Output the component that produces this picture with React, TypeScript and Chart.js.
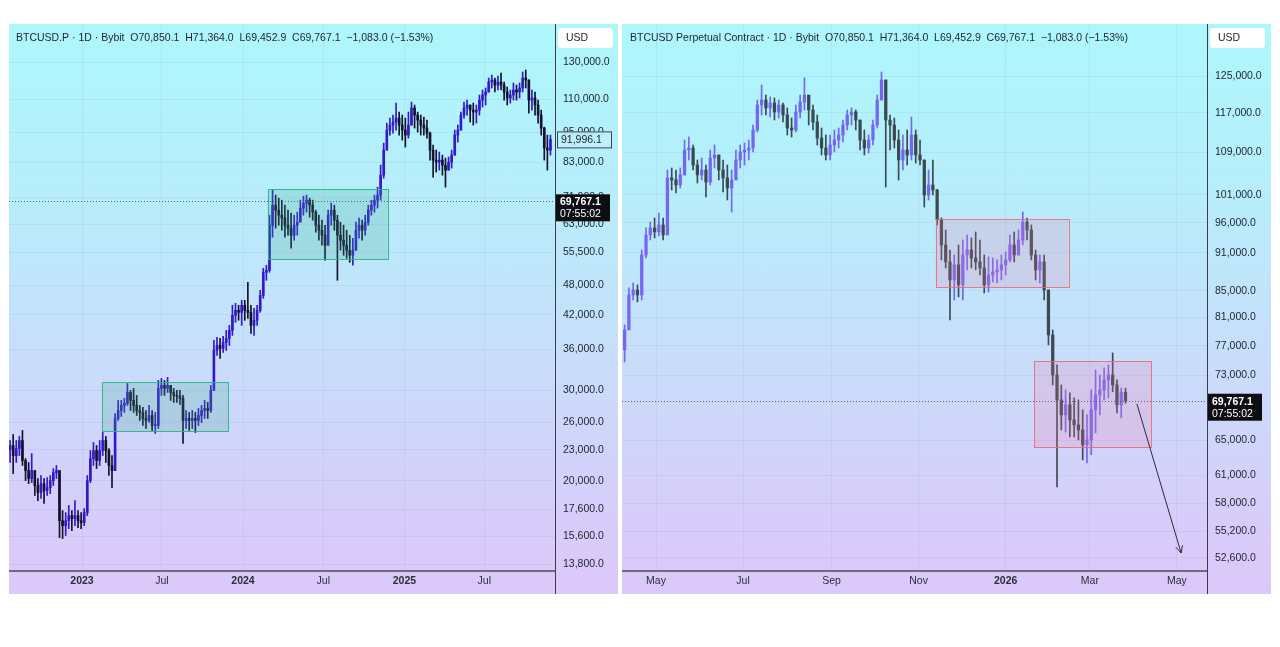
import React, { useEffect, useRef } from "react";
import { Chart, registerables } from "chart.js";
Chart.register(...registerables);

const FONT = '"Liberation Sans", Arial, sans-serif';
const dayOf = (s: string) => Date.parse(s + "T00:00:00Z") / 86400000;

// ---------------- LEFT PANEL: weekly candles, BTCUSD.P ----------------
const LEFT_FIRST_DATE = "2022-07-22";
const LEFT_STEP_DAYS = 7;
const LEFT_FIRST_OPEN = 23000;
const LEFT_HIGH = [
  23960, 24620, 23960, 24400, 25060, 22100, 21720, 22600, 20950, 20210,
  20490, 20210, 20300, 20490, 21140, 21430, 20950, 17520, 17360, 17920,
  17520, 18320, 17520, 17360, 17680, 20490, 22910, 23750, 23430, 23960,
  24840, 24400, 23120, 22400, 27030, 28660, 28660, 28920, 30920, 29970,
  30240, 29310, 28030, 27780, 27400, 28030, 27400, 27160, 31340, 31620,
  31340, 31760, 30650, 30240, 29970, 29970, 29310, 27400, 27160, 27400,
  27160, 27650, 28030, 28660, 28410, 30650, 37480, 37980, 37810, 38150,
  39190, 40080, 43840, 44230, 43840, 44830, 44830, 48580, 43840, 43260,
  43840, 46880, 51730, 52430, 65570, 73330, 71710, 70750, 70120, 68570,
  67050, 66160, 65570, 66450, 70120, 71390, 71710, 70750, 70120, 67050,
  65570, 64120, 62700, 67050, 69190, 68570, 65570, 63550, 62700, 61310,
  59960, 59160, 63550, 64700, 64120, 65570, 68570, 70120, 71710, 74320,
  82010, 90490, 98950, 101200, 102560, 108220, 103950, 102560, 101200, 103950,
  108700, 107260, 103950, 102560, 101650, 100290, 95050, 89680, 87700, 86920,
  85760, 84620, 85000, 87700, 95900, 98080, 103950, 108700, 109680, 107260,
  108220, 107260, 112160, 114700, 115730, 121030, 122670, 121030, 122120, 123770,
  118870, 116250, 114700, 118340, 117290, 118340, 124320, 125440, 120000, 114700,
  113680, 109680, 104880, 97200, 93780, 93780,
];
const LEFT_LOW = [
  21720, 20670, 21720, 22400, 21430, 20030, 19760, 19850, 18740, 18320,
  18490, 18080, 18740, 18900, 19590, 20210, 15530, 15460, 15670, 16160,
  16020, 16380, 16230, 16160, 16380, 17130, 19850, 21430, 21140, 21430,
  22400, 21720, 20490, 19410, 20950, 26200, 26680, 27160, 28030, 27400,
  27160, 26790, 26200, 25620, 25280, 25970, 25060, 24730, 25280, 29310,
  29310, 29700, 28660, 28410, 28410, 28150, 23640, 25280, 25060, 25280,
  24840, 25620, 25970, 26440, 26440, 27160, 29970, 35050, 34580, 35520,
  35840, 36650, 38320, 40630, 40990, 40080, 40990, 41350, 38670, 38320,
  40080, 42480, 45230, 49020, 50800, 59420, 61870, 62700, 61310, 59420,
  59960, 56570, 58630, 59960, 64120, 65570, 66450, 64990, 64120, 60760,
  58630, 57330, 53610, 57330, 62700, 61310, 49020, 56060, 54820, 54090,
  53130, 52430, 56060, 59160, 58630, 59960, 62700, 65570, 66450, 67660,
  70120, 77370, 87700, 93780, 94620, 95900, 93780, 91710, 88890, 92530,
  98080, 96770, 95050, 93780, 93780, 92530, 83860, 77720, 79480, 80190,
  78420, 74320, 80190, 80910, 85760, 90890, 95900, 101200, 102560, 99400,
  98080, 98950, 102560, 106300, 107260, 113680, 115730, 113680, 114700, 114700,
  109680, 107260, 108220, 109680, 109680, 110670, 113680, 115730, 103480, 104880,
  102560, 98950, 93780, 83860, 80190, 85760,
];
const LEFT_CLOSE = [
  23430, 22400, 23120, 23960, 21910, 20950, 20210, 20950, 19590, 18990,
  19760, 19160, 19410, 20030, 20760, 20950, 16750, 16380, 16750, 17130,
  16900, 17130, 16750, 16600, 17360, 20030, 22100, 22910, 21910, 22910,
  23960, 22910, 21430, 20950, 26440, 27400, 28030, 28280, 29700, 28660,
  28030, 27400, 27160, 26440, 26200, 26790, 25620, 25620, 30240, 30650,
  30240, 30650, 29700, 29310, 29180, 28920, 26200, 26440, 26200, 26440,
  26200, 26790, 27400, 27650, 27400, 29970, 35840, 36650, 36160, 37150,
  37810, 39190, 41910, 42860, 42480, 43840, 42860, 42480, 40080, 40990,
  42860, 45840, 50800, 51260, 62700, 68570, 67050, 65570, 64700, 62700,
  61870, 59960, 62700, 63550, 67660, 69190, 70120, 68570, 66450, 62700,
  61310, 59960, 57330, 65570, 67050, 64120, 59960, 58630, 57330, 56060,
  54820, 56060, 61310, 62700, 61310, 63550, 67050, 68570, 70120, 71710,
  78420, 87700, 95900, 98080, 99400, 101200, 98080, 95900, 93780, 98080,
  105830, 102560, 100290, 98080, 96770, 94620, 87700, 83860, 83110, 83860,
  82010, 80190, 83110, 85760, 93780, 95900, 102560, 105830, 107260, 104880,
  103950, 104880, 109680, 112160, 113680, 118870, 119940, 117290, 118870, 117290,
  113680, 110670, 112160, 114700, 113680, 115730, 121030, 119940, 109680, 110670,
  107260, 102560, 96770, 88490, 87700, 91996.1,
];
const LEFT_PRICE_TICKS = [
  13800, 15600, 17600, 20000, 23000, 26000, 30000, 36000, 42000, 48000,
  55500, 63000, 71000, 83000, 95000, 110000, 130000,
];
const LEFT_MONTH_DATES = ["2023-01-01", "2023-07-01", "2024-01-01", "2024-07-01", "2025-01-01", "2025-07-01"];
const LEFT_MONTH_LABELS = ["2023", "Jul", "2024", "Jul", "2025", "Jul"];
const LEFT_BOXES = [
  { from: "2023-02-15", to: "2023-11-28", lo: 24950, hi: 31060 },
  { from: "2024-02-26", to: "2024-11-24", lo: 53850, hi: 73660 },
];
const LEFT_LAST_VISIBLE = 91996.1;

// ---------------- RIGHT PANEL: 3-day candles, Perpetual ----------------
const RIGHT_FIRST_DATE = "2025-04-09";
const RIGHT_STEP_DAYS = 3;
const RIGHT_FIRST_OPEN = 76430;
const RIGHT_HIGH = [
  79940, 85430, 86200, 85900, 91460, 95150, 96170, 96870, 97740, 96870,
  105590, 105970, 105590, 105970, 111430, 112040, 110440, 107500, 107890, 106540,
  109450, 110440, 108470, 107500, 106540, 105590, 109450, 110440, 110830, 111430,
  114470, 119730, 123000, 120810, 120380, 120160, 119730, 119090, 118030, 115930,
  118660, 120810, 124560, 120160, 118660, 116550, 113860, 112440, 112440, 113450,
  113860, 115500, 117600, 118030, 117600, 115500, 113450, 112440, 115500, 120810,
  125910, 124110, 116550, 115930, 113450, 112440, 113450, 116130, 113450, 111430,
  107500, 105590, 107500, 102000, 96870, 94810, 91460, 90640, 92290, 93120,
  93960, 93460, 94470, 93120, 90640, 90320, 90160, 89840, 90640, 91130,
  93960, 94470, 94810, 97920, 96870, 95660, 91460, 90640, 90640, 85120,
  79230, 74400, 71770, 71140, 70760, 70130, 69870, 68630, 68020, 71140,
  73740, 73080, 74000, 74400, 76020, 72420, 71390, 71364,
];
const RIGHT_LOW = [
  74800, 79940, 83610, 83310, 83610, 90160, 93120, 93460, 93800, 93120,
  93960, 101860, 101310, 102230, 104650, 107500, 105590, 103150, 103710, 100590,
  102780, 105970, 103710, 101500, 100050, 97920, 104650, 105970, 106540, 107500,
  109060, 113040, 116550, 116550, 116130, 115500, 115930, 115090, 112440, 112040,
  113040, 115930, 117600, 114470, 113450, 110440, 108470, 107500, 107500, 109060,
  109840, 111030, 113450, 114470, 113450, 109450, 108470, 108860, 110440, 113860,
  119730, 102420, 109450, 109840, 103710, 105590, 106540, 107500, 106920, 106540,
  98800, 100050, 100950, 95660, 89840, 88560, 80660, 83610, 84060, 83610,
  88240, 88560, 88240, 87450, 84660, 84820, 86360, 86200, 86670, 87450,
  89520, 89520, 90640, 92290, 93120, 89840, 86670, 86200, 83610, 77130,
  71770, 59770, 66200, 65960, 65380, 65380, 65030, 62730, 62390, 63310,
  65850, 68020, 69870, 70130, 70890, 68260, 67650, 69452.9,
];
const RIGHT_CLOSE = [
  79230, 84360, 85120, 84360, 90640, 93960, 95150, 94470, 95660, 93960,
  104090, 103710, 102780, 104650, 109450, 109840, 106540, 104650, 105590, 103340,
  107890, 108470, 105590, 104090, 102230, 103710, 107500, 109060, 109450, 109840,
  113450, 118660, 119730, 118030, 119090, 117180, 118660, 116550, 113860, 113450,
  117180, 119300, 120810, 117600, 115090, 111830, 109840, 108470, 110440, 111430,
  112440, 114470, 116550, 117180, 115500, 111430, 109840, 111430, 114470, 119730,
  124110, 115500, 114470, 111430, 107500, 109450, 108470, 112440, 108470, 107500,
  100950, 102780, 101860, 96520, 92290, 89520, 86670, 89040, 85900, 90640,
  91460, 90160, 89520, 88560, 85900, 87450, 87920, 88240, 89040, 89840,
  92290, 90640, 93120, 96170, 94810, 90640, 88240, 89520, 85120, 78520,
  73080, 69870, 68020, 69250, 67400, 66800, 66200, 64450, 65030, 68630,
  70510, 71140, 72420, 73080, 71770, 69250, 70850, 69767.1,
];
const RIGHT_PRICE_TICKS = [
  52600, 55200, 58000, 61000, 65000, 73000, 77000, 81000, 85000, 91000,
  96000, 101000, 109000, 117000, 125000,
];
const RIGHT_MONTH_DATES = ["2025-05-01", "2025-07-01", "2025-09-01", "2025-11-01", "2026-01-01", "2026-03-01", "2026-05-01"];
const RIGHT_MONTH_LABELS = ["May", "Jul", "Sep", "Nov", "2026", "Mar", "May"];
const RIGHT_BOXES = [
  { from: "2025-11-13", to: "2026-02-14", lo: 85590, hi: 96690 },
  { from: "2026-01-21", to: "2026-04-13", lo: 64220, hi: 74930 },
];
const RIGHT_ARROW = { from: "2026-04-03", fromPrice: 69370, to: "2026-05-04", toPrice: 53070 };

const LAST_PRICE = 69767.1;
const LAST_TIME = "07:55:02";
const OHLC_TEXT = "O70,850.1  H71,364.0  L69,452.9  C69,767.1  \u22121,083.0 (\u22121.53%)";

const GRADIENT = "linear-gradient(180deg, #adf7fc 0%, #b6eefb 28%, #c8defb 58%, #d8ccfa 88%, #dcc8fa 100%)";

const fmt = (v: number) => v.toLocaleString("en-US", { minimumFractionDigits: 1, maximumFractionDigits: 1 });

function makeConfig(p: any) {
  const start = dayOf(p.first);
  const wicks: any[] = [];
  const bodies: any[] = [];
  const colors: string[] = [];
  for (let i = 0; i < p.close.length; i++) {
    const x = start + p.step * i;
    const open = i === 0 ? p.firstOpen : p.close[i - 1];
    wicks.push({ x, y: [p.low[i], p.high[i]] });
    bodies.push({ x, y: [open, p.close[i]] });
    colors.push(p.close[i] >= open ? p.up : p.down);
  }
  const ref = dayOf(p.xRef);
  const monthVals = p.monthDates.map(dayOf);

  const overlay = {
    id: "overlay",
    afterDatasetsDraw(chart: any) {
      const { ctx, chartArea: ca, scales } = chart;
      const xs = scales.x;
      const ys = scales.y;
      ctx.save();
      ctx.beginPath();
      ctx.rect(ca.left, ca.top, ca.right - ca.left, ca.bottom - ca.top);
      ctx.clip();
      for (const b of p.boxes) {
        const x1 = xs.getPixelForValue(dayOf(b.from));
        const x2 = xs.getPixelForValue(dayOf(b.to));
        const y1 = ys.getPixelForValue(b.hi);
        const y2 = ys.getPixelForValue(b.lo);
        ctx.fillStyle = p.boxFill;
        ctx.fillRect(x1, y1, x2 - x1, y2 - y1);
        ctx.strokeStyle = p.boxStroke;
        ctx.lineWidth = 1;
        ctx.strokeRect(Math.round(x1) + 0.5, Math.round(y1) + 0.5, Math.round(x2 - x1), Math.round(y2 - y1));
      }
      const py = ys.getPixelForValue(LAST_PRICE);
      ctx.strokeStyle = "#5a6470";
      ctx.setLineDash([1, 2]);
      ctx.beginPath();
      ctx.moveTo(ca.left, Math.round(py) + 0.5);
      ctx.lineTo(ca.right, Math.round(py) + 0.5);
      ctx.stroke();
      ctx.setLineDash([]);
      if (p.arrow) {
        const a = p.arrow;
        const ax1 = xs.getPixelForValue(dayOf(a.from));
        const ay1 = ys.getPixelForValue(a.fromPrice);
        const ax2 = xs.getPixelForValue(dayOf(a.to));
        const ay2 = ys.getPixelForValue(a.toPrice);
        ctx.strokeStyle = "#2b2b36";
        ctx.lineWidth = 1;
        ctx.beginPath();
        ctx.moveTo(ax1, ay1);
        ctx.lineTo(ax2, ay2);
        const ang = Math.atan2(ay2 - ay1, ax2 - ax1);
        for (const d of [0.45, -0.45]) {
          ctx.moveTo(ax2, ay2);
          ctx.lineTo(ax2 - 8 * Math.cos(ang + d), ay2 - 8 * Math.sin(ang + d));
        }
        ctx.stroke();
      }
      ctx.restore();

      ctx.save();
      ctx.strokeStyle = "#6c6c7a";
      ctx.lineWidth = 2;
      ctx.beginPath();
      ctx.moveTo(0, ca.bottom + 1);
      ctx.lineTo(ca.right, ca.bottom + 1);
      ctx.stroke();
      ctx.strokeStyle = "#3d3d48";
      ctx.lineWidth = 1;
      ctx.beginPath();
      ctx.moveTo(Math.round(ca.right) + 0.5, 0);
      ctx.lineTo(Math.round(ca.right) + 0.5, chart.height);
      ctx.stroke();

      ctx.fillStyle = "#1e222d";
      ctx.font = `10.5px ${FONT}`;
      ctx.textBaseline = "middle";
      ctx.textAlign = "left";
      ctx.fillText(p.title + "  " + OHLC_TEXT, p.titleX, 14);

      const bx = ca.right + 3;
      ctx.fillStyle = "#ffffff";
      ctx.beginPath();
      (ctx as any).roundRect(bx, 4, 55, 20, 3);
      ctx.fill();
      ctx.fillStyle = "#1e222d";
      ctx.font = `10.5px ${FONT}`;
      ctx.fillText("USD", bx + 8, 14.5);

      if (p.lastVisible) {
        const vy = ys.getPixelForValue(p.lastVisible);
        ctx.fillStyle = "rgba(190,240,250,0.9)";
        ctx.fillRect(ca.right + 2, vy - 8, 55, 17);
        ctx.strokeStyle = "#3d4450";
        ctx.strokeRect(ca.right + 2.5, vy - 7.5, 54, 16);
        ctx.fillStyle = "#1e222d";
        ctx.font = `10.5px ${FONT}`;
        ctx.fillText(fmt(p.lastVisible), ca.right + 6, vy + 1);
      }

      ctx.fillStyle = "#0d0d12";
      ctx.fillRect(ca.right + 1, py - 7, 54, 27);
      ctx.fillStyle = "#ffffff";
      ctx.font = `bold 10.5px ${FONT}`;
      ctx.fillText(fmt(LAST_PRICE), ca.right + 5, py + 1);
      ctx.font = `10.5px ${FONT}`;
      ctx.fillText(LAST_TIME, ca.right + 5, py + 13);
      ctx.restore();
    },
  };

  return {
    type: "bar",
    data: {
      datasets: [
        {
          data: bodies,
          backgroundColor: colors,
          borderWidth: 0,
          barThickness: p.bodyW,
          minBarLength: 1,
          grouped: false,
        },
        {
          data: wicks,
          backgroundColor: colors,
          borderWidth: 0,
          barThickness: p.wickW,
          grouped: false,
        },
      ],
    },
    options: {
      responsive: false,
      animation: false,
      events: [],
      layout: { padding: 0 },
      plugins: { legend: { display: false }, tooltip: { enabled: false } },
      scales: {
        x: {
          type: "linear",
          bounds: "data",
          offset: false,
          min: ref + p.xMin,
          max: ref + p.xMax,
          afterBuildTicks: (s: any) => {
            s.ticks = monthVals.map((v: number) => ({ value: v }));
          },
          afterFit: (s: any) => {
            s.height = 24;
            s.paddingLeft = 0;
            s.paddingRight = 0;
          },
          grid: { color: "rgba(90,110,150,0.09)", drawTicks: false, offset: false },
          border: { display: false },
          ticks: {
            autoSkip: false,
            maxRotation: 0,
            padding: 5,
            color: "#2a2e39",
            callback: (_v: any, i: number) => p.monthLabels[i],
            font: (c: any) => ({
              family: FONT,
              size: 10.5,
              weight: /^\d{4}$/.test(p.monthLabels[c.index] || "") ? "bold" : "normal",
            }),
          },
        },
        y: {
          type: "logarithmic",
          position: "right",
          bounds: "data",
          min: p.yMin,
          max: p.yMax,
          afterBuildTicks: (s: any) => {
            s.ticks = p.priceTicks.map((v: number) => ({ value: v }));
          },
          afterFit: (s: any) => {
            s.width = p.axisW;
            s.paddingTop = 0;
            s.paddingBottom = 0;
          },
          grid: { color: "rgba(90,110,150,0.09)", drawTicks: false },
          border: { display: false },
          ticks: {
            autoSkip: false,
            padding: 8,
            color: "#1e222d",
            font: { family: FONT, size: 10.5 },
            callback: (v: any) => fmt(Number(v)),
          },
        },
      },
    },
    plugins: [overlay],
  };
}

const LEFT_PANEL = {
  first: LEFT_FIRST_DATE,
  step: LEFT_STEP_DAYS,
  firstOpen: LEFT_FIRST_OPEN,
  high: LEFT_HIGH,
  low: LEFT_LOW,
  close: LEFT_CLOSE,
  up: "#3419c8",
  down: "#15122e",
  bodyW: 2,
  wickW: 1,
  xRef: "2023-01-01",
  xMin: -165.5,
  xMax: 1072.3,
  yMin: 13435,
  yMax: 154060,
  axisW: 63,
  priceTicks: LEFT_PRICE_TICKS,
  monthDates: LEFT_MONTH_DATES,
  monthLabels: LEFT_MONTH_LABELS,
  boxes: LEFT_BOXES,
  boxFill: "rgba(60,170,140,0.22)",
  boxStroke: "rgba(40,180,130,0.9)",
  title: "BTCUSD.P \u00b7 1D \u00b7 Bybit",
  titleX: 7,
  lastVisible: LEFT_LAST_VISIBLE,
  arrow: null,
};

const RIGHT_PANEL = {
  first: RIGHT_FIRST_DATE,
  step: RIGHT_STEP_DAYS,
  firstOpen: RIGHT_FIRST_OPEN,
  high: RIGHT_HIGH,
  low: RIGHT_LOW,
  close: RIGHT_CLOSE,
  up: "#7566f0",
  down: "#3b4a52",
  bodyW: 2.6,
  wickW: 1,
  xRef: "2025-05-01",
  xMin: -23.83,
  xMax: 386.1,
  yMin: 51478,
  yMax: 137240,
  axisW: 64,
  priceTicks: RIGHT_PRICE_TICKS,
  monthDates: RIGHT_MONTH_DATES,
  monthLabels: RIGHT_MONTH_LABELS,
  boxes: RIGHT_BOXES,
  boxFill: "rgba(240,120,170,0.20)",
  boxStroke: "rgba(238,100,115,0.85)",
  title: "BTCUSD Perpetual Contract \u00b7 1D \u00b7 Bybit",
  titleX: 8,
  lastVisible: null,
  arrow: RIGHT_ARROW,
};

function Panel({ cfg, left, width }: { cfg: any; left: number; width: number }) {
  const ref = useRef<HTMLCanvasElement | null>(null);
  useEffect(() => {
    if (!ref.current) return;
    const chart = new Chart(ref.current, makeConfig(cfg) as any);
    return () => chart.destroy();
  }, []);
  return (
    <canvas
      ref={ref}
      width={width}
      height={570}
      style={{ position: "absolute", left, top: 24, width, height: 570, background: GRADIENT }}
    />
  );
}

export default function App() {
  return (
    <div style={{ position: "fixed", left: 0, top: 0, width: 1280, height: 647, background: "#ffffff", overflow: "hidden" }}>
      <Panel cfg={LEFT_PANEL} left={9} width={609} />
      <Panel cfg={RIGHT_PANEL} left={622} width={649} />
    </div>
  );
}
